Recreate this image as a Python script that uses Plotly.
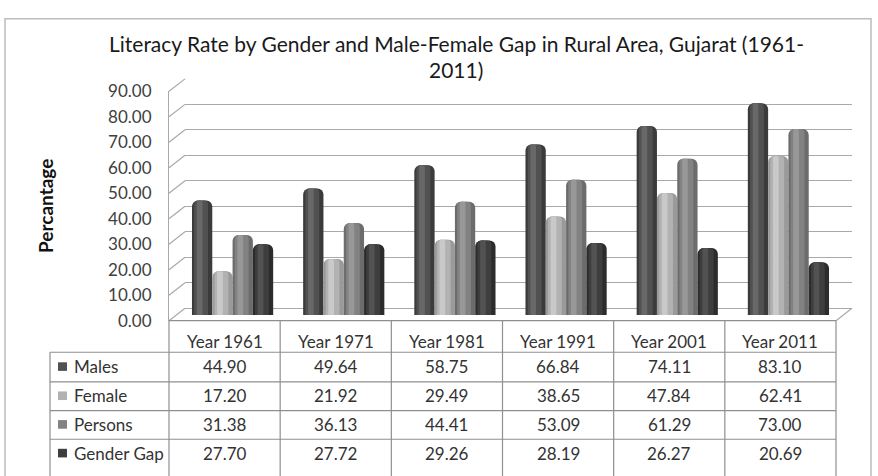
import plotly.graph_objects as go

# ---------------- data ----------------
years = ["Year 1961", "Year 1971", "Year 1981", "Year 1991", "Year 2001", "Year 2011"]
males = [44.90, 49.64, 58.75, 66.84, 74.11, 83.10]
female = [17.20, 21.92, 29.49, 38.65, 47.84, 62.41]
persons = [31.38, 36.13, 44.41, 53.09, 61.29, 73.00]
gender_gap = [27.70, 27.72, 29.26, 28.19, 26.27, 20.69]
series_names = ["Males", "Female", "Persons", "Gender Gap"]
y_ticks = [0, 10, 20, 30, 40, 50, 60, 70, 80, 90]
title_lines = ["Literacy Rate by Gender and Male-Female Gap in Rural Area, Gujarat (1961-", "2011)"]

series_values = [males, female, persons, gender_gap]
# (edge, mid, highlight) shades per series
shades = [
    ("#3b3b3b", "#515151", "#686868"),
    ("#9a9a9a", "#b2b2b2", "#c9c9c9"),
    ("#6c6c6c", "#828282", "#989898"),
    ("#2c2c2c", "#3e3e3e", "#525252"),
]

W, H = 878, 476
def px(x):
    return x / W
def py(y):
    return 1 - y / H

FONT = "Lato, 'Open Sans', sans-serif"
TXT = "#333333"
GRID = "#a9a9a9"
TLINE = "#8f8f8f"

# geometry (pixels)
FX0, FX1 = 169, 836          # front x extent
FY0, FY90 = 324, 84          # front y for 0 and 90
DX, DY = 16, 13              # depth offset of back wall
BX, BY = 8, 6                # depth offset for bars (mid depth)

fig = go.Figure()

# invisible trace for front axes (tick labels / table positions)
fig.add_trace(go.Scatter(x=years, y=males, mode="markers", marker=dict(opacity=0),
                         hoverinfo="skip", showlegend=False, xaxis="x", yaxis="y"))
# invisible trace for back wall axes (gridlines)
fig.add_trace(go.Scatter(x=years, y=males, mode="markers", marker=dict(opacity=0),
                         hoverinfo="skip", showlegend=False, xaxis="x2", yaxis="y2"))

# bars (cylinder-like via layered bars)
w = 20.3 / ((FX1 - FX0) / 6)
for k, (name, vals) in enumerate(zip(series_names, series_values)):
    c = (-1.5 + k) * w
    edge, mid, hi = shades[k]
    layers = [(w, c - w / 2, edge, 6), (0.68 * w, c - 0.34 * w - 0.05 * w, mid, 4),
              (0.28 * w, c - 0.14 * w - 0.12 * w, hi, 2)]
    for lw, off, col, rad in layers:
        fig.add_trace(go.Bar(x=years, y=vals, width=lw, offset=off, name=name,
                             marker=dict(color=col, line=dict(width=0), cornerradius=rad),
                             hoverinfo="skip", showlegend=False, xaxis="x3", yaxis="y3"))

shapes = []
# outer chart border
shapes.append(dict(type="rect", xref="paper", yref="paper", x0=px(5), x1=px(871), y0=py(8), y1=py(490),
                   line=dict(color="#bdbdbd", width=1.5), fillcolor="rgba(0,0,0,0)"))

# left side-wall diagonals for each gridline
for v in y_ticks:
    yf = FY0 - (FY0 - FY90) * v / 90
    shapes.append(dict(type="line", xref="paper", yref="paper", x0=px(FX0), y0=py(yf),
                       x1=px(FX0 + DX), y1=py(yf - DY), line=dict(color=GRID, width=1.2)))
# right floor diagonal
shapes.append(dict(type="line", xref="paper", yref="paper", x0=px(FX1), y0=py(FY0),
                   x1=px(FX1 + DX), y1=py(FY0 - DY), line=dict(color=GRID, width=1.2)))

# table lines
col_w = (FX1 - FX0) / 6
row_lines = [357, 388, 418, 448]
shapes.append(dict(type="line", xref="paper", yref="paper", x0=px(FX0), x1=px(FX1),
                   y0=py(FY0), y1=py(FY0), line=dict(color=TLINE, width=1.2)))
for yl in row_lines:
    shapes.append(dict(type="line", xref="paper", yref="paper", x0=px(50), x1=px(FX1),
                       y0=py(yl), y1=py(yl), line=dict(color=TLINE, width=1.2)))
for i in range(7):
    xl = FX0 + i * col_w
    shapes.append(dict(type="line", xref="paper", yref="paper", x0=px(xl), x1=px(xl),
                       y0=py(FY0), y1=py(490), line=dict(color=TLINE, width=1.2)))
shapes.append(dict(type="line", xref="paper", yref="paper", x0=px(50), x1=px(50),
                   y0=py(357), y1=py(490), line=dict(color=TLINE, width=1.2)))

TFS = 17
annotations = []
# header
for yr in years:
    annotations.append(dict(x=yr, y=py(346), xref="x", yref="paper", text=yr, showarrow=False,
                            font=dict(family=FONT, size=TFS, color=TXT), xanchor="center", yanchor="middle"))
row_centers = [372, 402.5, 432.5, 462.5]
for k, (name, vals) in enumerate(zip(series_names, series_values)):
    yc = row_centers[k]
    shapes.append(dict(type="rect", xref="paper", yref="paper", x0=px(58), x1=px(67),
                       y0=py(yc - 4.5), y1=py(yc + 4.5), fillcolor=shades[k][1], line=dict(width=0)))
    annotations.append(dict(x=px(72), y=py(yc), xref="paper", yref="paper", text=name, showarrow=False,
                            font=dict(family=FONT, size=TFS, color=TXT), xanchor="left", yanchor="middle"))
    for yr, v in zip(years, vals):
        annotations.append(dict(x=yr, y=py(yc), xref="x", yref="paper", text=f"{v:.2f}", showarrow=False,
                                font=dict(family=FONT, size=TFS, color=TXT), xanchor="center", yanchor="middle"))

# axis title
annotations.append(dict(x=px(45), y=py(204), xref="paper", yref="paper", text="<b>Percantage</b>",
                        textangle=-90, showarrow=False, font=dict(family=FONT, size=19, color="#111111"),
                        xanchor="center", yanchor="middle"))
# chart title (two lines)
for line, yy in zip(title_lines, [34, 61]):
    annotations.append(dict(x=px(456), y=py(yy), xref="paper", yref="paper", text=line,
                            showarrow=False, font=dict(family=FONT, size=21, color="#1a1a1a"),
                            xanchor="center", yanchor="middle"))

hidden_x = dict(showgrid=False, showticklabels=False, zeroline=False, showline=False, ticks="",
                range=[-0.5, 5.5], categoryorder="array", categoryarray=years, fixedrange=True)

fig.update_layout(
    width=W, height=H,
    margin=dict(l=0, r=0, t=0, b=0),
    paper_bgcolor="white", plot_bgcolor="rgba(0,0,0,0)",
    showlegend=False, barmode="overlay",
    xaxis=dict(domain=[px(FX0), px(FX1)], anchor="y", **hidden_x),
    yaxis=dict(domain=[py(FY0), py(FY90)], anchor="x", range=[0, 90], tickvals=y_ticks,
               tickformat=".2f", showgrid=False, zeroline=False, showline=True,
               linecolor=GRID, linewidth=1.2, ticks="", ticklabelstandoff=13,
               tickfont=dict(family=FONT, size=17, color="#404040")),
    xaxis2=dict(domain=[px(FX0 + DX), px(FX1 + DX)], anchor="y2", **hidden_x),
    yaxis2=dict(domain=[py(FY0 - DY), py(FY90 - DY)], anchor="x2", range=[0, 90], dtick=10,
                showgrid=True, gridcolor=GRID, gridwidth=1.2, zeroline=True, zerolinecolor=GRID,
                zerolinewidth=1.2, showticklabels=False, showline=False, ticks=""),
    xaxis3=dict(domain=[px(FX0 + BX), px(FX1 + BX)], anchor="y3", **hidden_x),
    yaxis3=dict(domain=[py(FY0 - BY), py(FY90 - BY)], anchor="x3", range=[0, 90],
                showgrid=False, zeroline=False, showticklabels=False, showline=False, ticks=""),
    shapes=shapes,
    annotations=annotations,
)

fig.write_html("out.html")
